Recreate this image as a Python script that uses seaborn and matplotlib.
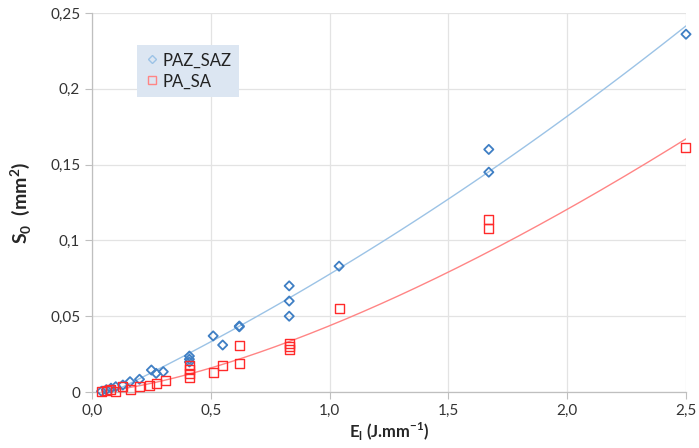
import matplotlib
matplotlib.use("Agg")
import matplotlib.pyplot as plt
from matplotlib.lines import Line2D
import seaborn as sns
import pandas as pd
import numpy as np

# Data
paz_x = [0.04, 0.06, 0.08, 0.10, 0.13, 0.16, 0.20, 0.25, 0.27, 0.30, 0.41, 0.41, 0.41,
         0.51, 0.55, 0.62, 0.62, 0.83, 0.83, 0.83, 1.04, 1.67, 1.67, 2.50]
paz_y = [0.0005, 0.0015, 0.0025, 0.0035, 0.0046, 0.0068, 0.0084, 0.0145, 0.0123, 0.0134,
         0.0237, 0.0216, 0.0198, 0.037, 0.031, 0.043, 0.0435, 0.070, 0.060, 0.050, 0.083,
         0.160, 0.145, 0.236]
pa_x = [0.04, 0.06, 0.08, 0.10, 0.13, 0.16, 0.20, 0.24, 0.27, 0.31, 0.41, 0.41, 0.41, 0.41,
        0.51, 0.55, 0.62, 0.62, 0.83, 0.83, 0.83, 1.04, 1.67, 1.67, 2.50]
pa_y = [0.0005, 0.0013, 0.0015, 0.0005, 0.0035, 0.0017, 0.0035, 0.0046, 0.0057, 0.0075,
        0.0178, 0.015, 0.0123, 0.0097, 0.0127, 0.0178, 0.0305, 0.0185, 0.032, 0.030, 0.028,
        0.055, 0.114, 0.108, 0.161]
series_names = ["PAZ_SAZ", "PA_SA"]
x_ticks = [0.0, 0.5, 1.0, 1.5, 2.0, 2.5]
y_ticks = [0, 0.05, 0.1, 0.15, 0.2, 0.25]
x_tick_labels = ["0,0", "0,5", "1,0", "1,5", "2,0", "2,5"]
y_tick_labels = ["0", "0,05", "0,1", "0,15", "0,2", "0,25"]

sns.set_style("white")
plt.rcParams["font.family"] = ["Lato", "DejaVu Sans"]

blue_pt = "#3f7fc4"
blue_ln = "#9cc3e6"
red_pt = "#ff2a2a"
red_ln = "#ff8585"


def power_trend(xs, ys):
    # Power-law trendline (least squares in log-log space)
    b, loga = np.polyfit(np.log(xs), np.log(ys), 1)
    xx = np.linspace(min(xs), max(xs), 200)
    return pd.DataFrame({"x": xx, "y": np.exp(loga) * xx ** b})


fig = plt.figure(figsize=(6.99, 4.48), dpi=100)
ax = fig.add_axes([0.1316, 0.125, 0.8498, 0.846])

df_paz = pd.DataFrame({"x": paz_x, "y": paz_y})
df_pa = pd.DataFrame({"x": pa_x, "y": pa_y})

# Trendlines: polynomial (order 2) for PAZ_SAZ, power law for PA_SA
sns.regplot(data=df_paz, x="x", y="y", order=2, ci=None, scatter=False, ax=ax,
            line_kws={"color": blue_ln, "lw": 1.0, "zorder": 2})
sns.lineplot(data=power_trend(pa_x, pa_y), x="x", y="y", color=red_ln, lw=1.0,
             ax=ax, zorder=2)

ax.scatter(df_paz["x"], df_paz["y"], marker="D", s=22, facecolors="none",
           edgecolors=blue_pt, linewidths=1.3, zorder=3, clip_on=False)
ax.scatter(df_pa["x"], df_pa["y"], marker="s", s=42, facecolors="none",
           edgecolors=red_pt, linewidths=1.0, zorder=3, clip_on=False)

ax.set_xlim(0, 2.5)
ax.set_ylim(0, 0.25)
ax.set_xticks(x_ticks)
ax.set_xticklabels(x_tick_labels)
ax.set_yticks(y_ticks)
ax.set_yticklabels(y_tick_labels)
ax.tick_params(axis="both", labelsize=11, length=5, width=0.8,
               direction="out", left=True, bottom=True)
ax.tick_params(axis="both", colors="#bfbfbf", labelcolor="#333333")
ax.grid(True, color="#e3e3e3", lw=0.9)
ax.set_axisbelow(True)
for side in ["top", "right"]:
    ax.spines[side].set_visible(False)
for side in ["left", "bottom"]:
    ax.spines[side].set_color("#bfbfbf")
    ax.spines[side].set_linewidth(0.9)

ax.set_xlabel(r"E$_\mathregular{l}$ (J.mm$^\mathregular{-1}$)", fontsize=12,
              fontweight="bold", labelpad=2)
ax.set_ylabel(r"S$_\mathregular{0}$  (mm$^\mathregular{2}$)", fontsize=14,
              fontweight="bold", labelpad=12)

handles = [
    Line2D([], [], marker="D", ls="none", markersize=4, markerfacecolor="none",
           markeredgecolor=blue_ln, markeredgewidth=1.0, label=series_names[0]),
    Line2D([], [], marker="s", ls="none", markersize=6, markerfacecolor="none",
           markeredgecolor=red_ln, markeredgewidth=1.0, label=series_names[1]),
]
leg = ax.legend(handles=handles, loc="upper left", bbox_to_anchor=(0.076, 0.916),
                borderaxespad=0, frameon=True, fontsize=12, handletextpad=0.15,
                handlelength=0.9, borderpad=0.45, labelspacing=0.3, fancybox=False)
leg.get_frame().set_facecolor("#dce6f2")
leg.get_frame().set_edgecolor("none")
leg.get_frame().set_alpha(1)
for t in leg.get_texts():
    t.set_color("#222222")

fig.savefig("out.png", dpi=100)
